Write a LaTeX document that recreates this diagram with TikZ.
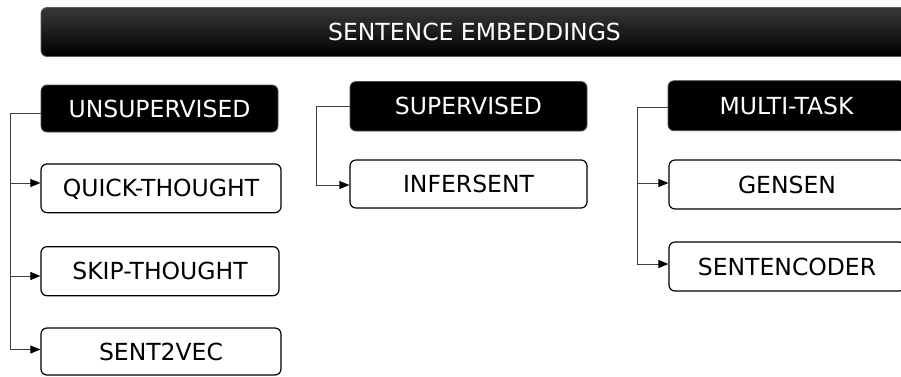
\documentclass[tikz,border=0pt]{standalone}
\usepackage{fontspec}
\setmainfont{DejaVu Sans}
\usetikzlibrary{arrows.meta}
\begin{document}
\begin{tikzpicture}[x=1pt,y=-1pt,
  lbl/.style={font=\fontsize{23.5}{28}\selectfont, text height=17pt, text depth=0pt, inner sep=0pt},
  titlebar/.style={lbl, rounded corners=6pt, draw=black!65, line width=0.8pt,
    top color=black!78, bottom color=black, text=white, minimum width=867pt, minimum height=49pt},
  catbox/.style={lbl, rounded corners=6pt, draw=black!70, line width=0.8pt, fill=black,
    text=white, minimum width=237pt},
  leafbox/.style={lbl, rounded corners=6pt, draw=black, line width=1.2pt, fill=white,
    minimum width=237pt, minimum height=48pt},
  conn/.style={draw=black!75, line width=0.9pt,
    -{Triangle[length=10pt,width=8pt,fill=black,color=black]}},
  link/.style={draw=black!75, line width=0.9pt}]
\useasboundingbox (0,0) rectangle (901,376);

% heading bar
\node[titlebar] (title) at (474.5,32) {SENTENCE EMBEDDINGS};

% category headers
\node[catbox, minimum height=47pt]   (unsup) at (159.5,108.5) {UNSUPERVISED};
\node[catbox, minimum height=49.5pt] (sup)   at (468.5,106.3) {SUPERVISED};
\node[catbox, minimum height=50pt]   (multi) at (786.5,105.7) {MULTI-TASK};

% methods
\node[leafbox, minimum width=240pt, minimum height=48.7pt] (quick) at (161,188.3) {QUICK-THOUGHT};
\node[leafbox, minimum width=238pt, minimum height=49pt]   (skip)  at (160,271.2) {SKIP-THOUGHT};
\node[leafbox, minimum width=240pt, minimum height=47pt]   (s2v)   at (161,351.5) {SENT2VEC};
\node[leafbox] (infer)   at (468.5,184) {INFERSENT};
\node[leafbox, minimum width=236pt, minimum height=49pt] (gensen)  at (787,184.5) {GENSEN};
\node[leafbox, minimum width=236pt, minimum height=49pt] (sentenc) at (787,266.5) {SENTENCODER};

% unsupervised branch
\draw[link] ([yshift=-4.5pt]unsup.west) -| ([xshift=-30pt,yshift=2pt]s2v.west);
\draw[conn] ([xshift=-30pt,yshift=5.3pt]quick.west) -- ([yshift=5.3pt]quick.west);
\draw[conn] ([xshift=-30pt,yshift=-4.8pt]skip.west) -- ([yshift=-4.8pt]skip.west);
\draw[conn] ([xshift=-30pt,yshift=2pt]s2v.west) -- ([yshift=2pt]s2v.west);

% supervised branch
\draw[conn] (sup.west) -| ([xshift=-33pt,yshift=-1pt]infer.west) -- ([yshift=-1pt]infer.west);

% multi-task branch
\draw[link] ([yshift=-1.3pt]multi.west) -| ([xshift=-31pt,yshift=2.5pt]sentenc.west);
\draw[conn] ([xshift=-31pt,yshift=1.5pt]gensen.west) -- ([yshift=1.5pt]gensen.west);
\draw[conn] ([xshift=-31pt,yshift=2.5pt]sentenc.west) -- ([yshift=2.5pt]sentenc.west);
\end{tikzpicture}
\end{document}
